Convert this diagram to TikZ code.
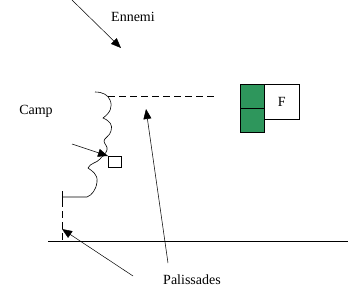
\documentclass[tikz,border=0pt]{standalone}
\usepackage{fontspec}
\setmainfont{Liberation Serif}
\usetikzlibrary{arrows.meta}
\definecolor{boxgreen}{RGB}{46,150,92}
\begin{document}
\begin{tikzpicture}[x=1pt,y=-1pt,
  lbl/.style={font=\fontsize{14}{16}\selectfont, inner sep=0pt},
  ptr/.style={-{Triangle[length=10pt,width=8pt]}, line width=0.5pt},
  dashln/.style={dash pattern=on 7pt off 4pt, line width=0.6pt},
  thin line/.style={line width=0.6pt}]
\useasboundingbox (0,0) rectangle (349,300);
% texts
\node[lbl] (ennemi) at (133,17) {Ennemi};
\node[lbl] (camp) at (36,111) {Camp};
\node[lbl] (pal) at (192,280) {Palissades};
% coordinates
\coordinate (eS) at (72,0);
\coordinate (eT) at (121,48);
\coordinate (sqS) at (72,144);
\coordinate (sqT) at (108,156);
\coordinate (p1S) at (133,276);
\coordinate (p1T) at (62,229);
\coordinate (p2S) at (168,263);
\coordinate (p2T) at (146,109);
\coordinate (gL) at (48,241);
\coordinate (gR) at (348,241);
\coordinate (dA) at (108,96);
\coordinate (dB) at (216,96);
\coordinate (vA) at (62,191);
\coordinate (vB) at (62,241);
% ground
\draw[thin line] (gL) -- (gR);
% palisade dashed lines
\draw[dashln] (dA) -- (dB);
\draw[dashln] (62,200) -- (vB);
\draw[thin line] (vA) -- (62,200);
% wavy camp boundary
\draw[thin line] (95,92) .. controls (103,92) and (108,95) .. (110,100)
  .. controls (113,107) and (110,113) .. (103,118)
  .. controls (110,121) and (113,125) .. (111,131)
  .. controls (110,136) and (104,138) .. (104,141)
  .. controls (104,144) and (108,146) .. (107,150)
  .. controls (106,154) and (102,156) .. (100,159)
  .. controls (97,163) and (90,163) .. (88,168)
  .. controls (92,171) and (98,174) .. (97,182)
  .. controls (96,190) and (92,195) .. (87,197)
  -- (62,197);
% small square
\node[draw, thin line, minimum width=13pt, minimum height=11pt, inner sep=0pt, anchor=north west] (sq) at (108,156) {};
% green boxes and F
\node[draw, thin line, fill=boxgreen, minimum width=24pt, minimum height=24pt, inner sep=0pt, anchor=north west] (g1) at (240,84) {};
\node[draw, thin line, fill=boxgreen, minimum width=24pt, minimum height=24pt, inner sep=0pt, anchor=north west] (g2) at (240,108) {};
\node[draw, thin line, minimum width=35pt, minimum height=35pt, inner sep=0pt, anchor=north west, font=\fontsize{14}{16}\selectfont] (f) at (264,84) {F};
% arrows
\draw[ptr] (eS) -- (eT);
\draw[ptr] (sqS) -- (sqT);
\draw[ptr] (p1S) -- (p1T);
\draw[ptr] (p2S) -- (p2T);
\end{tikzpicture}
\end{document}
